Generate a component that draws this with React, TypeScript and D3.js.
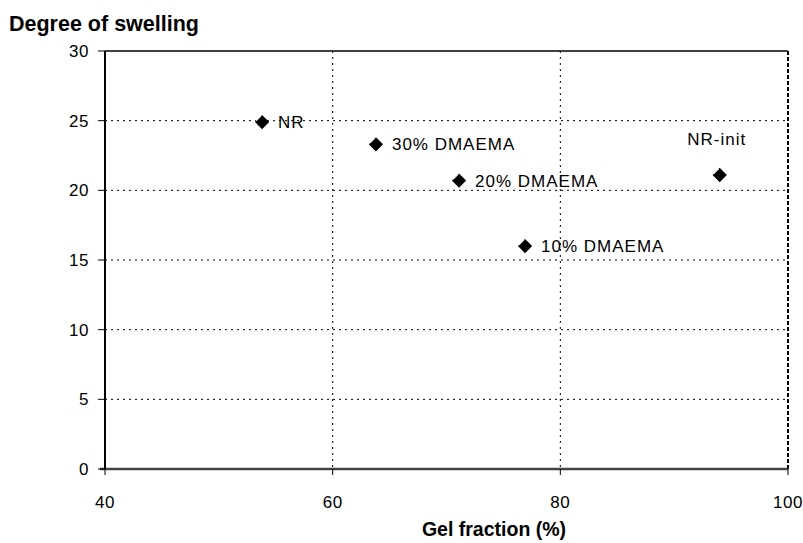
import React from "react";
import * as d3 from "d3";

const labels = ["NR", "30% DMAEMA", "20% DMAEMA", "10% DMAEMA", "NR-init"];
const gelFraction = [53.8, 63.8, 71.1, 76.9, 94.0];
const swelling = [24.9, 23.3, 20.7, 16.0, 21.1];
const xTicks = [40, 60, 80, 100];
const yTicks = [0, 5, 10, 15, 20, 25, 30];

const W = 803, H = 543;
const left = 105, right = 788, top = 51, bottom = 469;

export default function App() {
  const x = d3.scaleLinear().domain([40, 100]).range([left, right]);
  const y = d3.scaleLinear().domain([0, 30]).range([bottom, top]);
  const font = "'Liberation Sans', Arial, sans-serif";
  const diamond = d3.symbol().type(d3.symbolDiamond2).size(130)() as string;
  return (
    <div style={{ position: "absolute", left: 0, top: 0 }}>
      <svg width={W} height={H} style={{ display: "block", background: "#fff" }} fontFamily={font}>
        {/* grid */}
        {yTicks.filter(t => t > 0 && t < 30).map(t => (
          <line key={"gy" + t} x1={left} x2={right} y1={y(t)} y2={y(t)} stroke="#000" strokeWidth={1} strokeDasharray="2,4" />
        ))}
        {xTicks.filter(t => t > 40 && t < 100).map(t => (
          <line key={"gx" + t} x1={x(t)} x2={x(t)} y1={top} y2={bottom} stroke="#000" strokeWidth={1} strokeDasharray="2,4" />
        ))}
        {/* frame */}
        <line x1={left} x2={right} y1={top} y2={top} stroke="#000" strokeWidth={1.5} />
        <line x1={right} x2={right} y1={top} y2={bottom} stroke="#000" strokeWidth={2} strokeDasharray="4,2" />
        <line x1={left - 5} x2={right} y1={bottom} y2={bottom} stroke="#444" strokeWidth={2.5} />
        <line x1={left} x2={left} y1={top} y2={bottom} stroke="#000" strokeWidth={2} />
        {/* y ticks */}
        {yTicks.map(t => (
          <g key={"yt" + t}>
            <line x1={left - 7} x2={left} y1={y(t)} y2={y(t)} stroke="#000" strokeWidth={1} />
            <text x={left - 16} y={y(t)} dy="0.36em" textAnchor="end" fontSize={17} letterSpacing={0.5}>{t}</text>
          </g>
        ))}
        {/* x ticks */}
        {xTicks.map(t => (
          <g key={"xt" + t}>
            <line x1={x(t)} x2={x(t)} y1={bottom} y2={bottom + 6} stroke="#000" strokeWidth={1} />
            <text x={x(t)} y={bottom + 39} textAnchor="middle" fontSize={17} letterSpacing={0.5}>{t}</text>
          </g>
        ))}
        {/* points */}
        {labels.map((l, i) => {
          const px = x(gelFraction[i]);
          const py = y(swelling[i]);
          const above = l === "NR-init";
          return (
            <g key={l}>
              <path d={diamond} transform={`translate(${px},${py})`} fill="#000" />
              <line x1={px - 6} y1={py - 1} x2={px - 1} y2={py - 6} stroke="#fff" strokeWidth={1} />
              <text
                x={above ? px - 3 : px + 16}
                y={above ? py - 30 : py + 6}
                textAnchor={above ? "middle" : "start"}
                fontSize={17}
                letterSpacing={1}
              >{l}</text>
            </g>
          );
        })}
        {/* titles */}
        <text x={9} y={31} fontSize={21.5} fontWeight="bold">Degree of swelling</text>
        <text x={494} y={536} textAnchor="middle" fontSize={19.5} fontWeight="bold">Gel fraction (%)</text>
      </svg>
    </div>
  );
}
